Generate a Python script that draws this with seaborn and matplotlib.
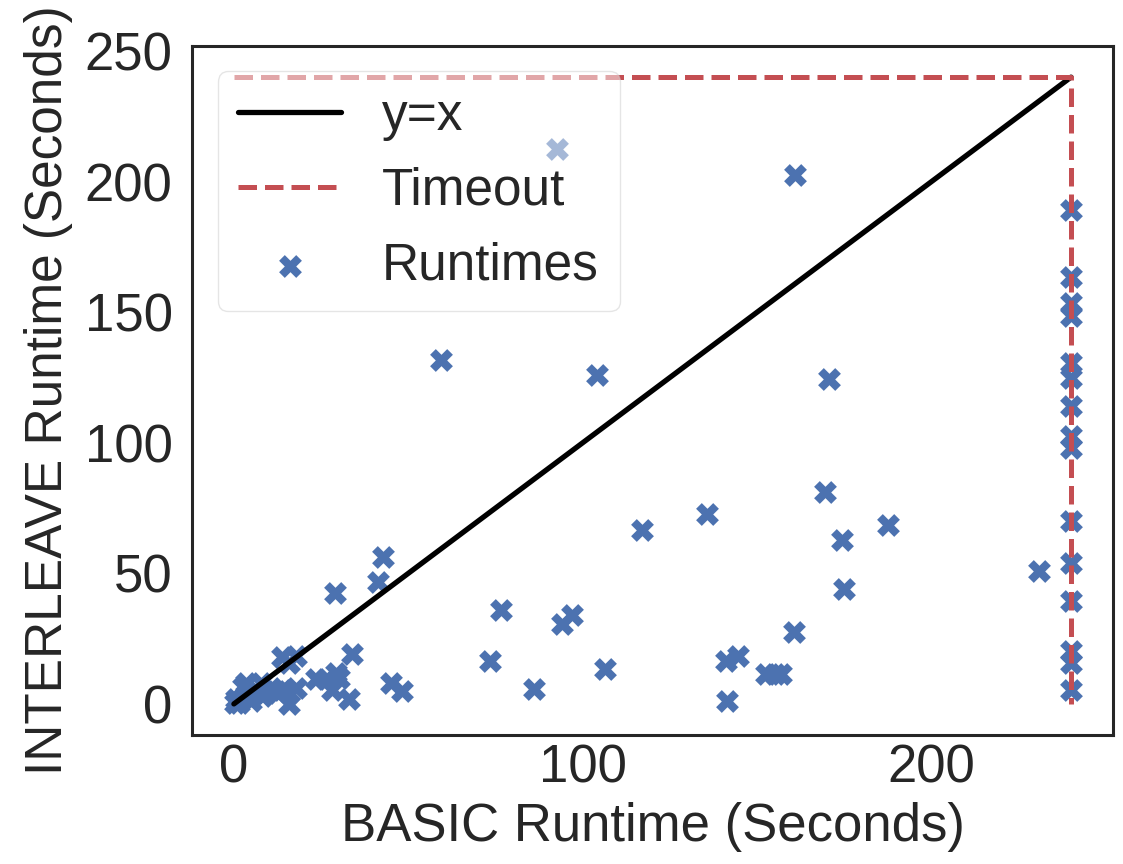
import numpy as np
import pandas as pd
import matplotlib
matplotlib.use("Agg")
import matplotlib.pyplot as plt
import seaborn as sns

# timeout used for unfinished runs (seconds)
timeout = 240

# runtimes: BASIC (x) vs INTERLEAVE (y)
basic_runtime = [
    92.7, 161.0, 59.4, 104.2, 170.7, 169.6, 135.7, 187.4, 117.1, 174.2, 230.8, 175.0,
    42.8, 41.4, 29.1, 76.5, 94.0, 96.9, 73.5, 85.9, 106.5, 141.1, 144.4, 141.3,
    152.6, 155.0, 156.9, 160.7, 45.0, 48.1,
    13.9, 17.7, 15.8, 34.0, 23.4, 26.3, 29.2, 30.1, 28.2, 33.0, 15.8, 17.7, 15.8,
    0.5, 3.4, 6.2, 9.1, 12.0, 13.9, 3.4, 7.7, 1.5, 5.0, 10.5, 2.5, 0.2, 4.5, 8.0,
    240, 240, 240, 240, 240, 240, 240, 240, 240, 240, 240, 240, 240, 240, 240,
]
interleave_runtime = [
    212.5, 202.5, 131.8, 126.0, 124.4, 81.1, 72.6, 68.4, 66.5, 62.6, 51.0, 44.0,
    56.2, 46.5, 42.3, 35.8, 30.6, 33.9, 16.5, 5.8, 13.3, 16.5, 18.4, 1.0,
    11.3, 11.3, 11.3, 27.7, 8.1, 4.9,
    17.8, 18.4, 15.8, 19.0, 9.4, 9.4, 12.0, 10.0, 5.5, 1.7, 4.3, 6.2, 0.0,
    1.7, 3.0, 5.5, 4.3, 4.9, 5.5, 8.1, 8.1, 0.5, 1.0, 6.0, 6.5, 0.3, 2.5, 3.0,
    189.1, 163.3, 153.4, 148.7, 130.7, 124.7, 114.0, 102.7, 98.1, 70.0, 54.1,
    39.4, 20.1, 15.5, 5.4,
]

df = pd.DataFrame({"basic": basic_runtime, "interleave": interleave_runtime})

sns.set_style("white")
plt.rcParams["font.family"] = ["Liberation Sans", "DejaVu Sans"]

blue = "#4c72b0"
red = "#c44e52"

fig, ax = plt.subplots(figsize=(11.23, 8.64), dpi=100)
fig.subplots_adjust(left=0.171, right=0.991, top=0.947, bottom=0.149)

# y = x reference line
sns.lineplot(x=[0, timeout], y=[0, timeout], color="k", linewidth=3.8,
             label="y=x", ax=ax)
# timeout boundary
sns.lineplot(x=[0, timeout, timeout], y=[timeout, timeout, 0], sort=False,
             estimator=None, color=red, linestyle="--", linewidth=3.6,
             label="Timeout", ax=ax)
sns.scatterplot(data=df, x="basic", y="interleave", marker="X", s=270,
                color=blue, linewidth=0, label="Runtimes", ax=ax)

ax.set_xlabel("BASIC Runtime (Seconds)", fontsize=38, labelpad=6)
ax.set_ylabel("INTERLEAVE Runtime (Seconds)", fontsize=37, labelpad=8)
ax.set_xticks([0, 100, 200])
ax.set_yticks([0, 50, 100, 150, 200, 250])
ax.tick_params(axis="both", labelsize=38, length=0)
ax.tick_params(axis="x", pad=6)
ax.tick_params(axis="y", pad=14)
for sp in ax.spines.values():
    sp.set_linewidth(2.2)
    sp.set_color(".15")

ax.legend(loc="upper left", fontsize=37, framealpha=0.5)

fig.savefig("out.png", dpi=100)
